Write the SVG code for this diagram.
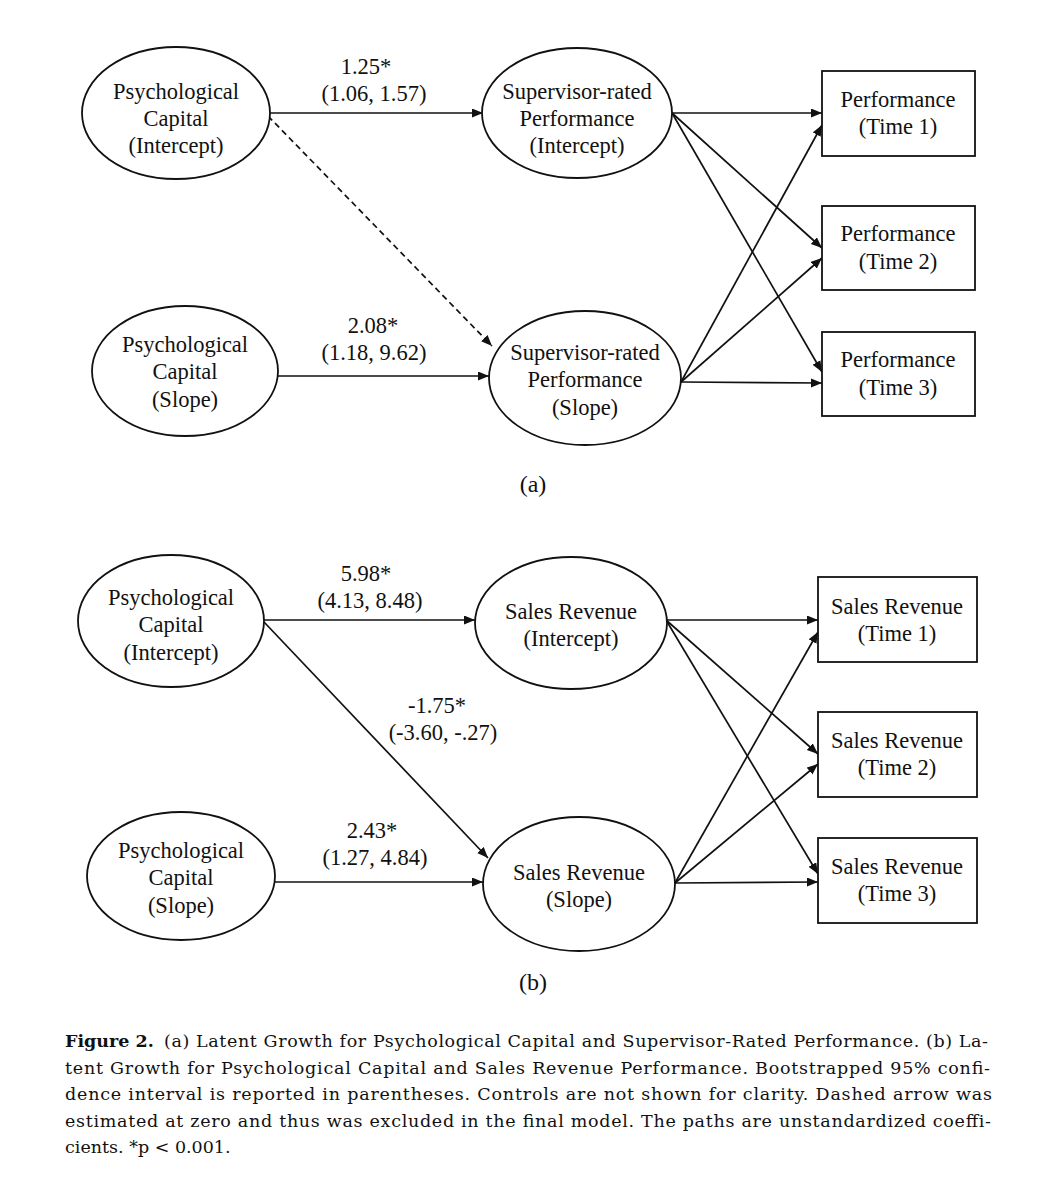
<svg xmlns="http://www.w3.org/2000/svg" width="1064" height="1200" viewBox="0 0 1064 1200">
<style>
.n{fill:#fff;stroke:#111;stroke-width:1.8}
.t{font-family:"Liberation Serif","Times New Roman",serif;font-size:22.5px;fill:#111;text-anchor:middle}
.lb{font-family:"Liberation Serif","Times New Roman",serif;font-size:22.5px;fill:#111;text-anchor:middle}
.c{stroke:#111;stroke-width:1.7;fill:none;marker-end:url(#ah)}
.d{stroke-dasharray:6 4}
.cap{font-family:"DejaVu Serif","Liberation Serif",serif;font-size:17.5px;fill:#111}
</style>
<defs>
<marker id="ah" markerUnits="userSpaceOnUse" markerWidth="12" markerHeight="10" refX="11" refY="4.5" orient="auto">
<path d="M0,0 L11,4.5 L0,9 z" fill="#111"/>
</marker>
</defs>
<rect width="1064" height="1200" fill="#fff"/>

<g id="connectors">
<line class="c" x1="270" y1="113" x2="483" y2="113"/>
<line class="c d" x1="268" y1="116" x2="492" y2="346"/>
<line class="c" x1="278" y1="376" x2="489" y2="376"/>
<line class="c" x1="672" y1="113" x2="822" y2="113"/>
<line class="c" x1="672" y1="113" x2="822" y2="248"/>
<line class="c" x1="672" y1="113" x2="822" y2="372"/>
<line class="c" x1="681" y1="382" x2="822" y2="125"/>
<line class="c" x1="681" y1="382" x2="822" y2="258"/>
<line class="c" x1="681" y1="382" x2="822" y2="383"/>
<line class="c" x1="264" y1="620" x2="475" y2="620"/>
<line class="c" x1="264" y1="622" x2="488" y2="858"/>
<line class="c" x1="275" y1="882" x2="483" y2="882"/>
<line class="c" x1="666" y1="620" x2="818" y2="620"/>
<line class="c" x1="666" y1="620" x2="818" y2="754"/>
<line class="c" x1="666" y1="620" x2="818" y2="874"/>
<line class="c" x1="675" y1="883" x2="818" y2="632"/>
<line class="c" x1="675" y1="883" x2="818" y2="764"/>
<line class="c" x1="675" y1="883" x2="818" y2="882"/>
</g>

<g id="labels">
<text class="lb" x="366" y="74">1.25*</text>
<text class="lb" x="374" y="101">(1.06, 1.57)</text>
<text class="lb" x="373" y="333">2.08*</text>
<text class="lb" x="374" y="360">(1.18, 9.62)</text>
<text class="lb" x="533" y="492" style="font-size:24px">(a)</text>
<text class="lb" x="366" y="581">5.98*</text>
<text class="lb" x="370" y="608">(4.13, 8.48)</text>
<text class="lb" x="437" y="713">-1.75*</text>
<text class="lb" x="443" y="740">(-3.60, -.27)</text>
<text class="lb" x="372" y="838">2.43*</text>
<text class="lb" x="375" y="865">(1.27, 4.84)</text>
<text class="lb" x="533" y="990" style="font-size:24px">(b)</text>
</g>

<g id="a-pc-int"><ellipse class="n" cx="176" cy="113" rx="94" ry="66"/>
<text class="t" x="176" y="99">Psychological</text><text class="t" x="176" y="126">Capital</text><text class="t" x="176" y="153">(Intercept)</text></g>
<g id="a-sr-int"><ellipse class="n" cx="577" cy="113" rx="95" ry="65"/>
<text class="t" x="577" y="99">Supervisor-rated</text><text class="t" x="577" y="126">Performance</text><text class="t" x="577" y="153">(Intercept)</text></g>
<g id="a-pc-slope"><ellipse class="n" cx="185" cy="371" rx="93" ry="65"/>
<text class="t" x="185" y="352">Psychological</text><text class="t" x="185" y="379">Capital</text><text class="t" x="185" y="407">(Slope)</text></g>
<g id="a-sr-slope"><ellipse class="n" cx="585" cy="378" rx="96" ry="67"/>
<text class="t" x="585" y="360">Supervisor-rated</text><text class="t" x="585" y="387">Performance</text><text class="t" x="585" y="415">(Slope)</text></g>
<g id="a-t1"><rect class="n" x="822" y="71" width="153" height="85"/>
<text class="t" x="898" y="107">Performance</text><text class="t" x="898" y="134">(Time 1)</text></g>
<g id="a-t2"><rect class="n" x="822" y="206" width="153" height="84"/>
<text class="t" x="898" y="241">Performance</text><text class="t" x="898" y="269">(Time 2)</text></g>
<g id="a-t3"><rect class="n" x="822" y="332" width="153" height="84"/>
<text class="t" x="898" y="367">Performance</text><text class="t" x="898" y="395">(Time 3)</text></g>

<g id="b-pc-int"><ellipse class="n" cx="171" cy="621" rx="93" ry="66"/>
<text class="t" x="171" y="605">Psychological</text><text class="t" x="171" y="632">Capital</text><text class="t" x="171" y="660">(Intercept)</text></g>
<g id="b-sr-int"><ellipse class="n" cx="571" cy="623" rx="96" ry="66"/>
<text class="t" x="571" y="619">Sales Revenue</text><text class="t" x="571" y="646">(Intercept)</text></g>
<g id="b-pc-slope"><ellipse class="n" cx="181" cy="876" rx="94" ry="64"/>
<text class="t" x="181" y="858">Psychological</text><text class="t" x="181" y="885">Capital</text><text class="t" x="181" y="913">(Slope)</text></g>
<g id="b-sr-slope"><ellipse class="n" cx="579" cy="884" rx="96" ry="67"/>
<text class="t" x="579" y="880">Sales Revenue</text><text class="t" x="579" y="907">(Slope)</text></g>
<g id="b-t1"><rect class="n" x="818" y="577" width="159" height="85"/>
<text class="t" x="897" y="614">Sales Revenue</text><text class="t" x="897" y="641">(Time 1)</text></g>
<g id="b-t2"><rect class="n" x="818" y="712" width="159" height="85"/>
<text class="t" x="897" y="748">Sales Revenue</text><text class="t" x="897" y="775">(Time 2)</text></g>
<g id="b-t3"><rect class="n" x="818" y="838" width="159" height="85"/>
<text class="t" x="897" y="874">Sales Revenue</text><text class="t" x="897" y="901">(Time 3)</text></g>

<g id="caption">
<text class="cap" x="65" y="1047" style="font-weight:bold">Figure 2.</text>
<text class="cap" x="164" y="1047" textLength="824" lengthAdjust="spacing">(a) Latent Growth for Psychological Capital and Supervisor-Rated Performance. (b) La-</text>
<text class="cap" x="65" y="1073.5" textLength="925" lengthAdjust="spacing">tent Growth for Psychological Capital and Sales Revenue Performance. Bootstrapped 95% confi-</text>
<text class="cap" x="65" y="1100" textLength="927" lengthAdjust="spacing">dence interval is reported in parentheses. Controls are not shown for clarity. Dashed arrow was</text>
<text class="cap" x="65" y="1126.5" textLength="926" lengthAdjust="spacing">estimated at zero and thus was excluded in the final model. The paths are unstandardized coeffi-</text>
<text class="cap" x="65" y="1153">cients. *p &lt; 0.001.</text>
</g>
</svg>
